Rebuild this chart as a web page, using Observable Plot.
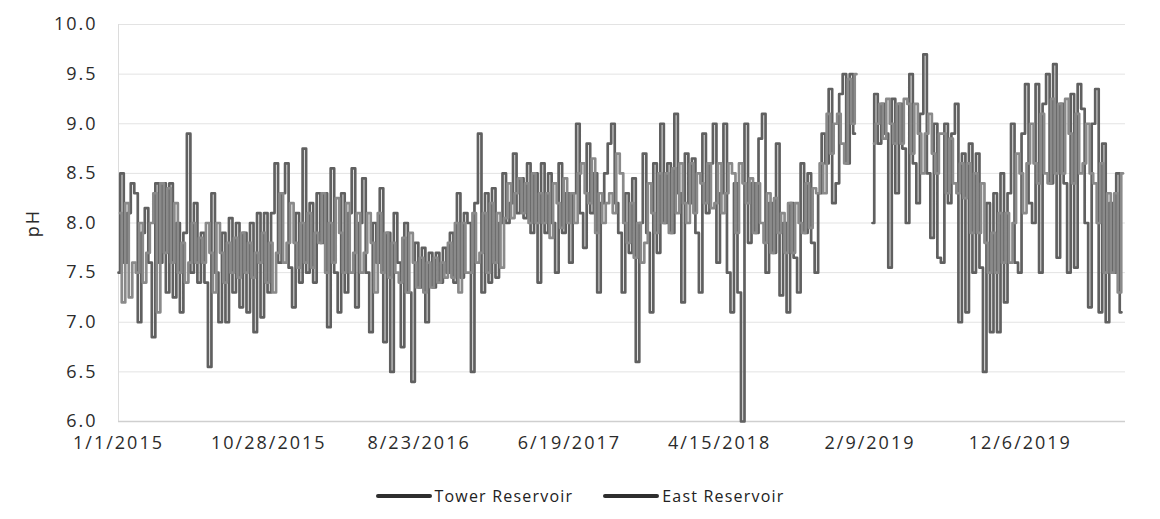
<!DOCTYPE html>
<html>
<head>
<meta charset="utf-8">
<script src="https://cdn.jsdelivr.net/npm/d3@7"></script>
<script src="https://cdn.jsdelivr.net/npm/@observablehq/plot@0.6"></script>
<style>
  body { margin: 0; background: #fff; font-family: "Open Sans", sans-serif; }
  #chart svg text { letter-spacing: 2px; }
  .legend { display: flex; justify-content: center; margin-top: 25px; font-size: 16px; color: #222; letter-spacing: 1.2px; line-height: 22px; }
  .legend .item { display: flex; align-items: center; margin: 0 15px; }
  .legend .sw { display: inline-block; width: 56px; height: 4px; margin-right: 3px; border-radius: 2px; }
</style>
</head>
<body>
<div id="chart"></div>
<div class="legend" id="legend"></div>
<script>
// ---- Data (weekly readings) ----
const seriesNames = ["Tower Reservoir", "East Reservoir"];
const seriesColors = ["#606060", "#8a8a8a"];
const seriesStarts = ["2015-01-01", "2015-01-04"];
const stepDays = 7;

const tower = [
  7.5, 8.5, 7.6, 8.1, 8.4, 8.3, 7.0, 7.9, 8.15, 7.6,
  6.85, 8.4, 7.6, 8.4, 7.3, 8.4, 7.25, 8.0, 7.1, 7.9,
  8.9, 7.5, 8.2, 7.4, 7.9, 7.4, 6.55, 8.3, 7.5, 7.0,
  7.9, 7.0, 8.05, 7.3, 8.0, 7.15, 7.9, 7.1, 8.0, 6.9,
  8.1, 7.05, 8.1, 7.3, 8.1, 8.6, 7.6, 8.3, 8.6, 7.55,
  7.15, 8.1, 7.4, 8.75, 7.5, 8.2, 7.4, 8.3, 7.8, 8.3,
  6.95, 8.55, 7.5, 7.1, 8.3, 7.3, 8.1, 8.55, 7.15, 8.0,
  8.45, 7.5, 6.9, 8.0, 7.6, 8.35, 6.8, 7.9, 6.5, 8.1,
  7.6, 6.75, 8.0, 7.3, 6.4, 7.8, 7.35, 7.75, 7.0, 7.7,
  7.35, 7.7, 7.4, 7.75, 7.5, 7.9, 7.4, 8.3, 7.45, 8.1,
  8.0, 6.5, 8.2, 8.9, 7.3, 8.3, 7.4, 8.35, 7.45, 8.0,
  8.5, 8.0, 8.2, 8.7, 8.1, 8.45, 8.05, 8.6, 7.9, 8.5,
  7.4, 8.6, 7.9, 8.5, 8.0, 7.5, 8.6, 7.9, 8.3, 7.6,
  8.3, 9.0, 8.1, 7.75, 8.8, 8.1, 8.5, 7.3, 8.2, 8.5,
  8.8, 9.0, 8.2, 7.9, 7.3, 8.3, 7.7, 8.45, 6.6, 8.0,
  8.7, 7.9, 7.1, 8.6, 7.7, 9.0, 8.0, 8.6, 7.9, 9.1,
  8.3, 7.2, 8.7, 8.2, 8.65, 7.9, 7.3, 8.9, 8.1, 8.6,
  9.0, 7.6, 8.3, 9.0, 7.5, 7.1, 8.4, 7.3, 6.0, 9.0,
  7.8, 8.4, 7.9, 8.85, 9.1, 7.5, 8.2, 7.7, 8.8, 7.27,
  8.0, 7.1, 8.2, 7.65, 7.3, 8.6, 7.9, 8.5, 7.8, 7.5,
  8.3, 8.9, 8.6, 9.35, 8.2, 8.4, 9.3, 9.5, 8.6, 9.5, 8.9,
  null, null, null, null,
  8.0, 9.3, 8.8, 9.2, 8.9, 7.55, 9.25, 8.3, 9.2, 8.75,
  8.0, 9.5, 8.6, 8.2, 9.1, 9.7, 8.5, 7.85, 9.0, 7.65,
  7.6, 9.0, 8.2, 8.9, 9.2, 7.0, 8.7, 7.1, 8.8, 7.5,
  8.7, 7.55, 6.5, 8.2, 6.9, 8.3, 6.9, 8.5, 7.2, 8.3,
  9.0, 7.6, 7.5, 8.9, 9.4, 8.2, 8.0, 9.4, 7.5, 9.2,
  9.5, 8.4, 9.6, 7.65, 9.2, 8.4, 7.5, 9.3, 7.55, 9.4,
  9.15, 8.0, 7.15, 9.0, 9.35, 7.1, 8.8, 7.0, 8.2, 7.5, 8.5, 7.1
];

const east = [
  8.1, 7.2, 8.2, 7.25, 7.6, 7.5, 8.0, 7.4, 7.7, 8.0,
  8.3, 7.1, 8.4, 7.7, 8.35, 7.6, 8.2, 7.5, 7.8, 7.4,
  7.6, 8.0, 7.6, 7.85, 7.6, 8.0, 7.7, 7.3, 8.0, 7.7,
  7.4, 7.8, 7.5, 7.85, 7.45, 7.9, 7.5, 7.8, 7.45, 7.7,
  7.6, 7.9, 7.4, 7.8, 7.3, 7.7, 8.3, 7.6, 7.8, 8.2,
  7.8, 7.55, 8.0, 7.6, 8.1, 7.55, 7.9, 7.8, 8.3, 7.5,
  8.0, 7.6, 8.25, 7.9, 7.5, 8.2, 7.5, 7.7, 8.1, 7.5,
  7.7, 8.1, 7.8, 7.3, 8.1, 7.5, 7.9, 7.45, 7.8, 7.5,
  7.4, 7.85, 7.3, 7.9, 7.6, 7.35, 7.65, 7.3, 7.6, 7.35,
  7.65, 7.4, 7.6, 7.45, 7.8, 7.45, 8.0, 7.3, 8.0, 7.5,
  7.5, 8.1, 7.6, 7.7, 8.1, 7.5, 8.2, 7.6, 8.1, 7.55,
  8.05, 8.4, 8.05, 8.3, 8.45, 8.1, 8.4, 8.0, 8.5, 8.0,
  8.3, 8.0, 8.3, 7.85, 8.4, 8.2, 7.95, 8.45, 8.0, 8.3,
  8.0, 8.5, 8.6, 8.3, 8.2, 8.65, 7.9, 8.3, 8.0, 8.2,
  8.3, 8.1, 8.7, 8.5, 8.0, 7.8, 8.2, 7.65, 8.0, 7.6,
  7.8, 8.4, 8.1, 7.9, 8.5, 8.0, 8.5, 7.9, 8.55, 8.1,
  8.6, 8.2, 8.0, 8.6, 8.1, 8.5, 8.4, 8.2, 8.6, 8.15,
  8.2, 8.6, 8.1, 8.3, 8.6, 8.5, 7.9, 8.6, 8.4, 8.2,
  8.45, 7.9, 8.4, 8.0, 7.8, 8.3, 7.7, 8.25, 7.9, 8.1,
  7.7, 8.2, 7.7, 8.2, 8.0, 7.9, 8.4, 7.95, 8.35, 8.3,
  8.6, 8.3, 9.1, 8.7, 9.0, 9.1, 8.8, 8.6, 9.45, 9.0, 9.5,
  null, null, null, null,
  8.8, 9.0, 9.2, 8.85, 9.25, 9.0, 8.8, 9.2, 8.8, 9.25,
  9.2, 8.7, 9.2, 8.9, 8.5, 8.9, 9.1, 8.7, 8.5, 8.9,
  8.9, 8.3, 8.85, 8.4, 8.3, 8.6, 8.25, 8.6, 7.9, 8.5,
  7.9, 8.4, 7.8, 7.5, 7.9, 7.5, 8.1, 7.6, 8.1, 7.6,
  8.0, 8.7, 8.5, 8.1, 8.6, 9.0, 8.6, 8.4, 9.1, 8.5,
  8.4, 9.25, 8.5, 9.2, 8.5, 9.25, 8.9, 8.4, 9.1, 8.5,
  8.6, 9.0, 8.5, 8.4, 8.0, 8.6, 7.5, 8.3, 7.5, 8.3, 7.3, 8.5
];

const xTickLabels = ["1/1/2015", "10/28/2015", "8/23/2016", "6/19/2017", "4/15/2018", "2/9/2019", "12/6/2019"];
const xDomain = ["2015-01-01", "2020-07-03"];
const yTicks = [6.0, 6.5, 7.0, 7.5, 8.0, 8.5, 9.0, 9.5, 10.0];
const yLabel = "pH";

// ---- Build table ----
const parseIso = d3.utcParse("%Y-%m-%d");
const parseUS = d3.utcParse("%m/%d/%Y");
const fmtUS = d3.utcFormat("%-m/%-d/%Y");
const rows = [];
[tower, east].forEach((vals, s) => {
  const t0 = parseIso(seriesStarts[s]);
  vals.forEach((v, i) => {
    rows.push({ series: seriesNames[s], date: d3.utcDay.offset(t0, i * stepDays), value: v });
  });
});
const xTicks = xTickLabels.map(parseUS);
const xDom = xDomain.map(parseIso);

const chart = Plot.plot({
  width: 1160,
  height: 460,
  marginLeft: 118,
  marginRight: 35,
  marginTop: 24,
  marginBottom: 39,
  style: { fontFamily: "Open Sans, sans-serif", fontSize: "18px", color: "#2b2b2b", background: "#fff" },
  x: { type: "utc", domain: xDom },
  y: { domain: [6, 10] },
  color: { domain: seriesNames, range: seriesColors },
  marks: [
    Plot.gridY(yTicks, { stroke: "#e3e3e3", strokeOpacity: 1 }),
    Plot.ruleX([xDom[0]], { stroke: "#dcdcdc" }),
    Plot.ruleY([6], { stroke: "#cfcfcf", strokeWidth: 1.5 }),
    Plot.line(rows, { x: "date", y: "value", z: "series", stroke: "series", strokeWidth: 2.7, curve: "step" }),
    Plot.axisX({ ticks: xTicks, tickFormat: fmtUS, tickSize: 0, tickPadding: 15, label: null }),
    Plot.axisY({ ticks: yTicks, tickFormat: d => d.toFixed(1), tickSize: 0, tickPadding: 21,
      label: yLabel, labelAnchor: "center", labelArrow: "none", labelOffset: 92 })
  ]
});
document.getElementById("chart").appendChild(chart);

// ---- Legend ----
const legend = document.getElementById("legend");
seriesNames.forEach((name, i) => {
  const item = document.createElement("span");
  item.className = "item";
  const sw = document.createElement("span");
  sw.className = "sw";
  sw.style.background = "#2e2e2e";
  item.appendChild(sw);
  item.appendChild(document.createTextNode(name));
  legend.appendChild(item);
});
</script>
</body>
</html>
